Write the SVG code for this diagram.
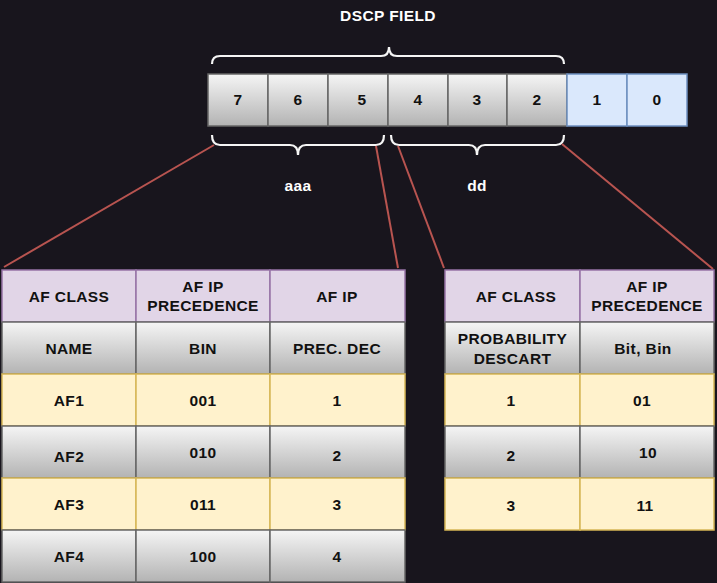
<svg xmlns="http://www.w3.org/2000/svg" width="717" height="583" viewBox="0 0 717 583">
<defs>
<linearGradient id="gray" x1="0" y1="0" x2="0" y2="1">
<stop offset="0" stop-color="#f5f5f5"/>
<stop offset="1" stop-color="#b3b3b3"/>
</linearGradient>
<style>
text{font-family:"Liberation Sans",Arial,sans-serif;font-weight:bold;font-size:15.5px;letter-spacing:0.4px;text-anchor:middle;fill:#111}
.g{fill:url(#gray);stroke:#666666;stroke-width:1.5}
.b{fill:#dae8fc;stroke:#6c8ebf;stroke-width:1.5}
.p{fill:#e1d5e7;stroke:#9673a6;stroke-width:1.5}
.y{fill:#fff2cc;stroke:#d6b656;stroke-width:1.5}
.brace{fill:none;stroke:#f5f5f5;stroke-width:2.2}
.w{fill:#ffffff}
.conn{stroke:#b85450;stroke-width:2;fill:none}
</style>
</defs>
<rect width="717" height="583" fill="#18151d"/>

<g id="labels">
<text class="w" x="388" y="21">DSCP FIELD</text>
<text class="w" x="298" y="191">aaa</text>
<text class="w" x="477" y="191">dd</text>
</g>

<g id="braces">
<path id="brace-top" class="brace" d="M212,64 Q212,56 220,56 L381,56 Q389,56 389,47 Q389,56 397,56 L556,56 Q564,56 564,64"/>
<path id="brace-aaa" class="brace" d="M212,135 Q212,145 220,145 L290,145 Q298,145 298,155 Q298,145 306,145 L376,145 Q384,145 384,135"/>
<path id="brace-dd" class="brace" d="M391,135 Q391,145 399,145 L469,145 Q477,145 477,155 Q477,145 485,145 L556,145 Q564,145 564,135"/>
</g>

<g id="connectors">
<line class="conn" x1="214" y1="145" x2="4" y2="267"/>
<line class="conn" x1="376" y1="146" x2="398" y2="268"/>
<line class="conn" x1="398" y1="146" x2="444" y2="268"/>
<line class="conn" x1="562" y1="144" x2="713" y2="269"/>
</g>

<g id="bit7"><rect class="g" x="208" y="74" width="60" height="52"/><text x="238" y="105">7</text></g>
<g id="bit6"><rect class="g" x="268" y="74" width="60" height="52"/><text x="298" y="105">6</text></g>
<g id="bit5"><rect class="g" x="328" y="74" width="60" height="52"/><text x="362" y="105">5</text></g>
<g id="bit4"><rect class="g" x="388" y="74" width="60" height="52"/><text x="418" y="105">4</text></g>
<g id="bit3"><rect class="g" x="448" y="74" width="59" height="52"/><text x="477" y="105">3</text></g>
<g id="bit2"><rect class="g" x="507" y="74" width="60" height="52"/><text x="537" y="105">2</text></g>
<g id="bit1"><rect class="b" x="567" y="74" width="60" height="52"/><text x="597" y="105">1</text></g>
<g id="bit0"><rect class="b" x="627" y="74" width="60" height="52"/><text x="657" y="105">0</text></g>

<g id="left-table">
<g id="lt-h1"><rect class="p" x="2" y="270" width="134" height="52"/><text x="69" y="301.5">AF CLASS</text></g>
<g id="lt-h2"><rect class="p" x="136" y="270" width="134" height="52"/><text x="203" y="292">AF IP</text><text x="203" y="311">PRECEDENCE</text></g>
<g id="lt-h3"><rect class="p" x="270" y="270" width="135" height="52"/><text x="337" y="301.5">AF IP</text></g>

<g id="lt-r1c1"><rect class="g" x="2" y="322" width="134" height="52"/><text x="69" y="353.5">NAME</text></g>
<g id="lt-r1c2"><rect class="g" x="136" y="322" width="134" height="52"/><text x="203" y="353.5">BIN</text></g>
<g id="lt-r1c3"><rect class="g" x="270" y="322" width="135" height="52"/><text x="337" y="353.5">PREC. DEC</text></g>

<g id="lt-r2c1"><rect class="y" x="2" y="374" width="134" height="52"/><text x="69" y="405.5">AF1</text></g>
<g id="lt-r2c2"><rect class="y" x="136" y="374" width="134" height="52"/><text x="203" y="405.5">001</text></g>
<g id="lt-r2c3"><rect class="y" x="270" y="374" width="135" height="52"/><text x="337" y="405.5">1</text></g>

<g id="lt-r3c1"><rect class="g" x="2" y="426" width="134" height="52"/><text x="69" y="461.5">AF2</text></g>
<g id="lt-r3c2"><rect class="g" x="136" y="426" width="134" height="52"/><text x="203" y="457.5">010</text></g>
<g id="lt-r3c3"><rect class="g" x="270" y="426" width="135" height="52"/><text x="337" y="460.5">2</text></g>

<g id="lt-r4c1"><rect class="y" x="2" y="478" width="134" height="52"/><text x="69" y="509.5">AF3</text></g>
<g id="lt-r4c2"><rect class="y" x="136" y="478" width="134" height="52"/><text x="203" y="509.5">011</text></g>
<g id="lt-r4c3"><rect class="y" x="270" y="478" width="135" height="52"/><text x="337" y="509.5">3</text></g>

<g id="lt-r5c1"><rect class="g" x="2" y="530" width="134" height="52"/><text x="69" y="562">AF4</text></g>
<g id="lt-r5c2"><rect class="g" x="136" y="530" width="134" height="52"/><text x="203" y="562">100</text></g>
<g id="lt-r5c3"><rect class="g" x="270" y="530" width="135" height="52"/><text x="337" y="562">4</text></g>
</g>

<g id="right-table">
<g id="rt-h1"><rect class="p" x="445" y="270" width="135" height="52"/><text x="516" y="301.5">AF CLASS</text></g>
<g id="rt-h2"><rect class="p" x="580" y="270" width="134" height="52"/><text x="647" y="292">AF IP</text><text x="647" y="311">PRECEDENCE</text></g>

<g id="rt-r1c1"><rect class="g" x="445" y="322" width="135" height="52"/><text x="512.5" y="344">PROBABILITY</text><text x="512.5" y="364">DESCART</text></g>
<g id="rt-r1c2"><rect class="g" x="580" y="322" width="134" height="52"/><text x="643" y="354">Bit, Bin</text></g>

<g id="rt-r2c1"><rect class="y" x="445" y="374" width="135" height="52"/><text x="511" y="405.5">1</text></g>
<g id="rt-r2c2"><rect class="y" x="580" y="374" width="134" height="52"/><text x="642" y="405.5">01</text></g>

<g id="rt-r3c1"><rect class="g" x="445" y="426" width="135" height="52"/><text x="511" y="460.5">2</text></g>
<g id="rt-r3c2"><rect class="g" x="580" y="426" width="134" height="52"/><text x="648" y="457.5">10</text></g>

<g id="rt-r4c1"><rect class="y" x="445" y="478" width="135" height="52"/><text x="511" y="510.5">3</text></g>
<g id="rt-r4c2"><rect class="y" x="580" y="478" width="134" height="52"/><text x="645" y="510.5">11</text></g>
</g>
</svg>
